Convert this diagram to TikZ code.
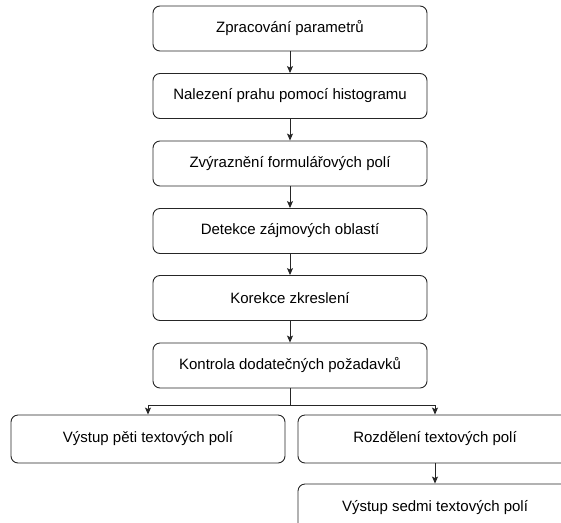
\documentclass[tikz,border=0pt]{standalone}
\usepackage{fontspec}
\setmainfont{Liberation Sans}
\usetikzlibrary{arrows.meta}
\tikzset{
  procbox/.style={draw=black!85, line width=0.9pt, rounded corners=7pt,
    minimum width=274pt, minimum height=45pt, inner sep=0pt,
    font=\fontsize{15}{18}\selectfont},
  flow/.style={draw=black!85, line width=0.9pt,
    -{Stealth[length=7pt,width=6pt,inset=1.5pt]}}
}
\begin{document}
\begin{tikzpicture}
\clip (0,0) rectangle (561pt,-522pt);
\node[procbox] (proc1) at (290pt,-28.5pt) {Zpracování parametrů};
\node[procbox] (proc2) at (290pt,-96pt) {Nalezení prahu pomocí histogramu};
\node[procbox] (proc3) at (290pt,-163.5pt) {Zvýraznění formulářových polí};
\node[procbox] (proc4) at (290pt,-231pt) {Detekce zájmových oblastí};
\node[procbox] (proc5) at (290pt,-298pt) {Korekce zkreslení};
\node[procbox] (proc6) at (290pt,-365.5pt) {Kontrola dodatečných požadavků};
\node[procbox, minimum height=48pt] (out5) at (148pt,-439pt) {Výstup pěti textových polí};
\node[procbox, minimum height=48pt] (split) at (435pt,-439pt) {Rozdělení textových polí};
\node[procbox, minimum height=48pt] (out7) at (435pt,-508pt) {Výstup sedmi textových polí};
\coordinate (fork) at (290pt,-405pt);
\draw[flow] (proc1) -- (proc2);
\draw[flow] (proc2) -- (proc3);
\draw[flow] (proc3) -- (proc4);
\draw[flow] (proc4) -- (proc5);
\draw[flow] (proc5) -- (proc6);
\draw[draw=black!85, line width=0.9pt] (proc6) -- (fork);
\draw[flow] (fork) -| (out5);
\draw[flow] (fork) -| (split);
\draw[flow] (split) -- (out7);
\end{tikzpicture}
\end{document}
